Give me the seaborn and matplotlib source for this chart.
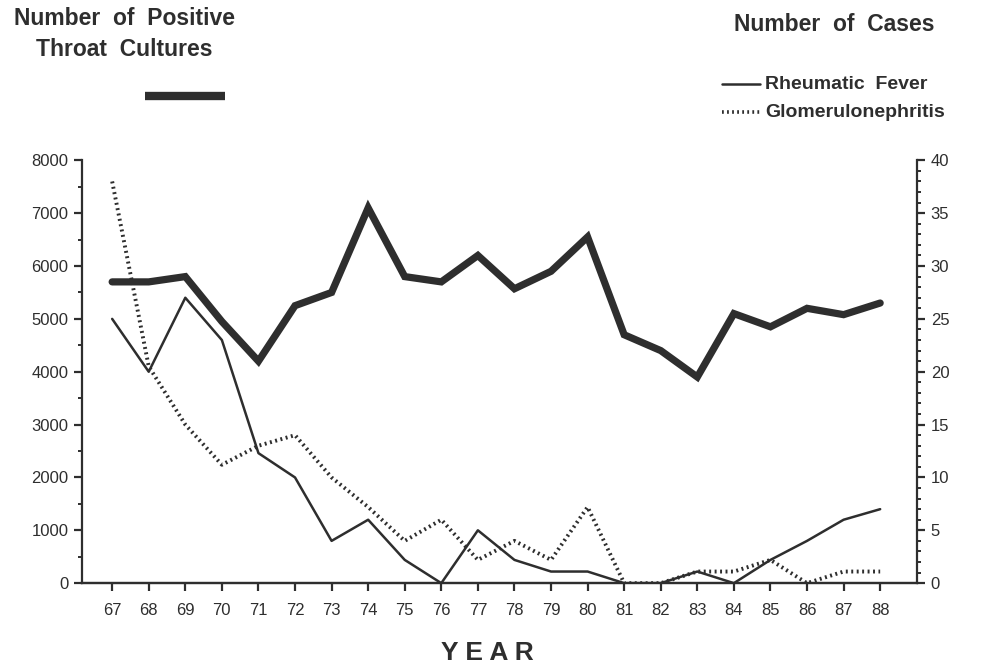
import numpy as np, pandas as pd
import matplotlib
matplotlib.use("Agg")
import matplotlib.pyplot as plt
import seaborn as sns
from matplotlib.lines import Line2D
from matplotlib.ticker import MultipleLocator

years = list(range(67, 89))
year_labels = [str(y) for y in years]
# 阳性咽拭子培养数（左轴）
throat = [5700, 5700, 5800, 4950, 4200, 5250, 5500, 7100, 5800, 5700, 6200,
          5570, 5900, 6550, 4700, 4400, 3900, 5100, 4850, 5200, 5080, 5300]
# 病例数（右轴）
rheumatic = [25, 20, 27, 23, 12.3, 10, 4, 6, 2.2, 0, 5,
             2.2, 1.1, 1.1, 0, 0, 1.1, 0, 2.2, 4, 6, 7]
glomerulo = [38, 20.5, 15, 11.2, 13, 14, 10, 7.2, 4, 6, 2.2,
             4, 2.2, 7.2, 0, 0, 1.1, 1.1, 2.2, 0, 1.1, 1.1]

sns.set_style("ticks")
fam = ["Liberation Sans", "DejaVu Sans"]
plt.rcParams.update({"font.family": fam, "xtick.direction": "out", "ytick.direction": "out"})
INK = "#2e2e2e"

df = pd.DataFrame({"year": years, "throat": throat, "rf": rheumatic, "gn": glomerulo})

fig = plt.figure(figsize=(9.9, 6.68), dpi=100)
ax = fig.add_axes([0.083, 0.127, 0.843, 0.633])
ax2 = ax.twinx()

sns.lineplot(data=df, x="year", y="throat", ax=ax, color=INK, linewidth=5.2, solid_joinstyle="miter")
sns.lineplot(data=df, x="year", y="rf", ax=ax2, color=INK, linewidth=1.8)
sns.lineplot(data=df, x="year", y="gn", ax=ax2, color=INK, linewidth=2.8, linestyle=(0, (0.5, 0.9)))

ax.set_xlim(66.18, 89.0)
ax.set_ylim(0, 8000); ax2.set_ylim(0, 40)
ax.set_xticks(years, year_labels)
ax.yaxis.set_major_locator(MultipleLocator(1000)); ax.yaxis.set_minor_locator(MultipleLocator(500))
ax2.yaxis.set_major_locator(MultipleLocator(5)); ax2.yaxis.set_minor_locator(MultipleLocator(1))
for a in (ax, ax2):
    a.set_xlabel(""); a.set_ylabel("")
    for s in a.spines.values():
        s.set_linewidth(1.6); s.set_color(INK)
    a.spines["top"].set_visible(False)
    a.tick_params(which="major", length=6, width=1.6, color=INK, labelsize=12, labelcolor=INK, pad=4)
    a.tick_params(which="minor", length=3, width=1.4, color=INK)
ax.spines["right"].set_visible(False)
ax2.spines["left"].set_visible(False)
ax.tick_params(axis="x", pad=8)

fig.text(0.126, 0.990, "Number  of  Positive\nThroat  Cultures", ha="center", va="top",
         fontsize=16.5, fontweight="bold", color=INK, linespacing=1.45)
fig.add_artist(Line2D([0.146, 0.227], [0.856, 0.856], color=INK, linewidth=6, solid_capstyle="butt"))
fig.text(0.843, 0.963, "Number  of  Cases", ha="center", va="center", fontsize=16.5, fontweight="bold", color=INK)
fig.add_artist(Line2D([0.729, 0.768], [0.874, 0.874], color=INK, linewidth=1.8))
fig.add_artist(Line2D([0.729, 0.768], [0.832, 0.832], color=INK, linewidth=2.6, linestyle=(0, (0.5, 0.9))))
fig.text(0.773, 0.874, "Rheumatic  Fever", ha="left", va="center", fontsize=14, fontweight="bold", color=INK)
fig.text(0.773, 0.831, "Glomerulonephritis", ha="left", va="center", fontsize=14, fontweight="bold", color=INK)
fig.text(0.492, 0.004, "Y E A R", ha="center", va="bottom", fontsize=19, fontweight="bold", color=INK)

fig.savefig("out.png", dpi=100)
